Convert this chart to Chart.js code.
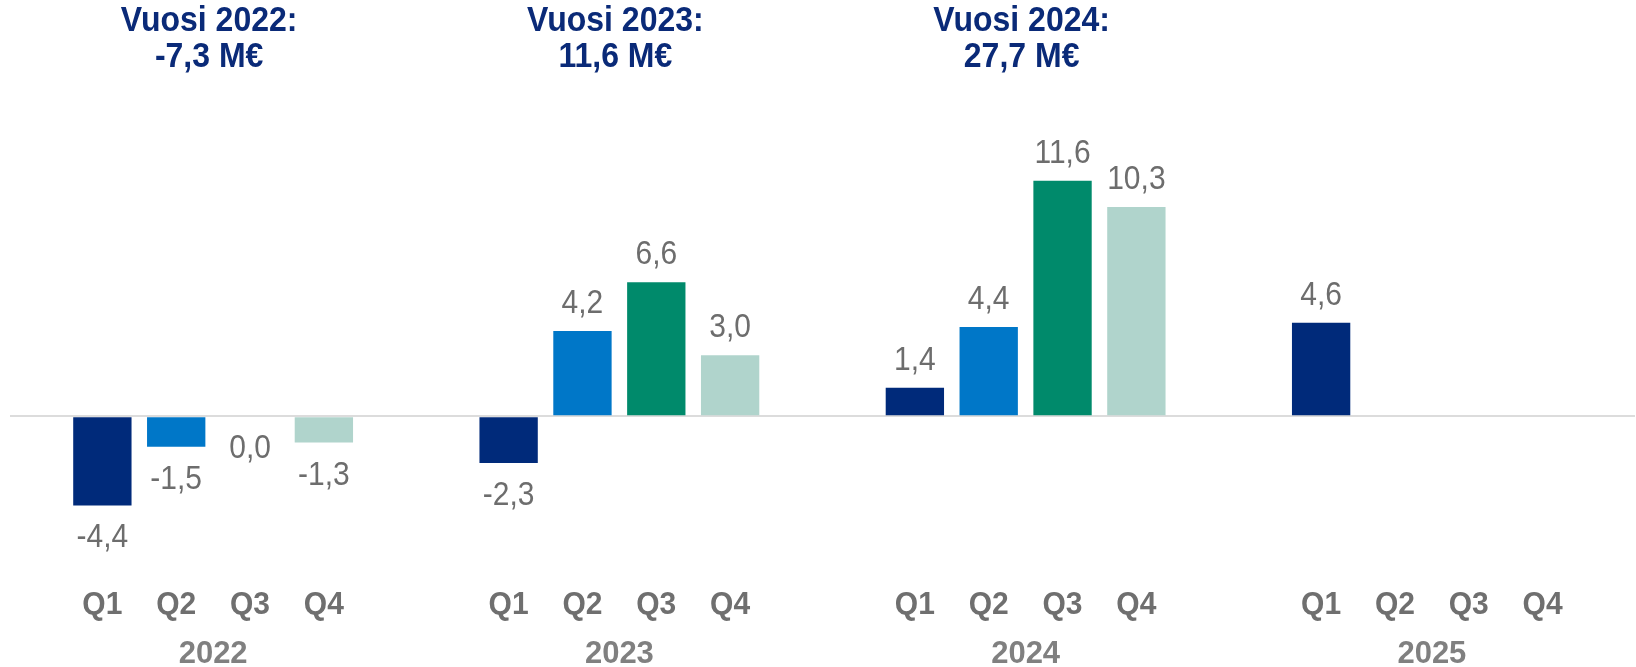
<!DOCTYPE html>
<html>
<head>
<meta charset="utf-8">
<script src="https://cdn.jsdelivr.net/npm/chart.js@4"></script>
<style>
  html, body { margin: 0; padding: 0; background: #fff; }
  #wrap { width: 1636px; height: 667px; }
</style>
</head>
<body>
<div id="wrap"><canvas id="resultChart"></canvas></div>
<script>
const years = ['2022', '2023', '2024', '2025'];
const quarters = ['Q1', 'Q2', 'Q3', 'Q4'];
const q1Values = [-4.4, -2.3, 1.4, 4.6];
const q2Values = [-1.5, 4.2, 4.4, null];
const q3Values = [0.0, 6.6, 11.6, null];
const q4Values = [-1.3, 3.0, 10.3, null];
const yearTitles = ['Vuosi 2022:', 'Vuosi 2023:', 'Vuosi 2024:'];
const yearTotals = ['-7,3 M€', '11,6 M€', '27,7 M€'];

const quarterColors = ['#002a7a', '#0077c8', '#008a6b', '#b0d4cc'];
const FONT = '"Liberation Sans", Arial, sans-serif';

function fmt(v) {
  return v.toFixed(1).replace('.', ',');
}

// text in the original looks a bit stretched vertically
function tallText(ctx, text, x, y, sy) {
  ctx.save();
  ctx.translate(x, y);
  ctx.scale(1, sy);
  ctx.fillText(text, 0, 0);
  ctx.restore();
}

// value labels, Q labels under each bar, year headers on top
const extras = {
  id: 'extras',
  afterDatasetsDraw(chart) {
    const ctx = chart.ctx;
    const area = chart.chartArea;
    ctx.save();
    ctx.textAlign = 'center';
    ctx.textBaseline = 'middle';

    chart.data.datasets.forEach((ds, di) => {
      const meta = chart.getDatasetMeta(di);
      meta.data.forEach((bar, i) => {
        // quarter label
        ctx.font = 'bold 30px ' + FONT;
        ctx.fillStyle = '#6f6f6f';
        tallText(ctx, quarters[di], bar.x, area.bottom + 67, 1.06);

        const v = ds.data[i];
        if (v === null || v === undefined) return;
        ctx.font = '30px ' + FONT;
        ctx.fillStyle = '#6d6d6d';
        const y = v > 0 ? bar.y - 27 : bar.y + 33;
        tallText(ctx, fmt(v), bar.x, y, 1.08);
      });
    });

    const x = chart.scales.x;
    ctx.font = 'bold 32px ' + FONT;
    ctx.fillStyle = '#0a2a78';
    yearTitles.forEach((t, i) => {
      const cx = x.getPixelForValue(i) - 4;
      tallText(ctx, t, cx, 21, 1.08);
      tallText(ctx, yearTotals[i], cx, 57, 1.08);
    });
    ctx.restore();
  }
};

new Chart(document.getElementById('resultChart'), {
  type: 'bar',
  data: {
    labels: years,
    datasets: [
      { label: 'Q1', data: q1Values, backgroundColor: quarterColors[0] },
      { label: 'Q2', data: q2Values, backgroundColor: quarterColors[1] },
      { label: 'Q3', data: q3Values, backgroundColor: quarterColors[2] },
      { label: 'Q4', data: q4Values, backgroundColor: quarterColors[3] }
    ]
  },
  options: {
    responsive: true,
    maintainAspectRatio: false,
    animation: false,
    datasets: {
      bar: { categoryPercentage: 0.727, barPercentage: 0.79 }
    },
    layout: { padding: { top: 132, left: 10, right: 1, bottom: 0 } },
    plugins: {
      legend: { display: false },
      tooltip: { enabled: false }
    },
    scales: {
      x: {
        grid: { display: false, drawTicks: false },
        border: { display: false },
        ticks: {
          color: '#808080',
          font: { family: FONT, size: 31, weight: 'bold', lineHeight: 1 },
          padding: 101
        },
        afterFit(scale) { scale.height = 129; }
      },
      y: {
        min: -6,
        max: 14,
        ticks: { display: false, stepSize: 1 },
        border: { display: false },
        grid: {
          drawTicks: false,
          color: c => c.tick.value === 0 ? '#dcdcdc' : 'rgba(0,0,0,0)',
          lineWidth: 2
        }
      }
    }
  },
  plugins: [extras]
});
</script>
</body>
</html>
